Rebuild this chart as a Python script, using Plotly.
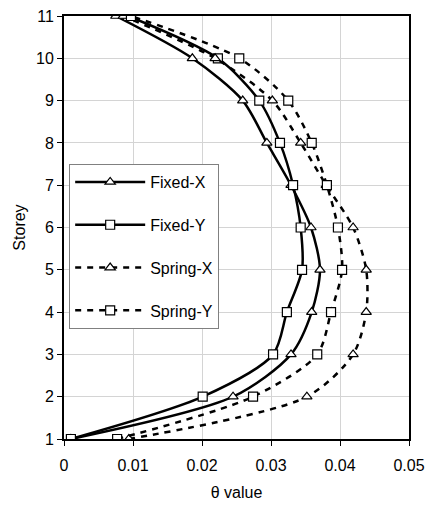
import plotly.graph_objects as go

storey = [1, 2, 3, 4, 5, 6, 7, 8, 9, 10, 11]
fixed_x = [0.0010, 0.0245, 0.0329, 0.0359, 0.0371, 0.0358, 0.0329, 0.0294, 0.0259, 0.0186, 0.0075]
fixed_y = [0.0010, 0.0201, 0.0303, 0.0323, 0.0345, 0.0343, 0.0332, 0.0313, 0.0283, 0.0223, 0.0093]
spring_x = [0.0094, 0.0352, 0.0419, 0.0438, 0.0438, 0.0419, 0.0380, 0.0343, 0.0302, 0.0219, 0.0086]
spring_y = [0.0077, 0.0274, 0.0367, 0.0387, 0.0403, 0.0397, 0.0381, 0.0359, 0.0325, 0.0254, 0.0097]
x_ticks = [0, 0.01, 0.02, 0.03, 0.04, 0.05]
x_ticklabels = ["0", "0.01", "0.02", "0.03", "0.04", "0.05"]

series = [
    ("Fixed-X", fixed_x, "solid", "triangle-up"),
    ("Fixed-Y", fixed_y, "solid", "square"),
    ("Spring-X", spring_x, "6px,6px", "triangle-up"),
    ("Spring-Y", spring_y, "6px,6px", "square"),
]

fig = go.Figure()
for i, (name, xs, dash, sym) in enumerate(series):
    fig.add_trace(go.Scatter(
        x=xs, y=storey, name=name, mode="lines+markers",
        legendgroup=f"g{i}",
        line=dict(color="black", width=2.5, dash=dash, shape="spline", smoothing=0.8),
        marker=dict(symbol=sym, size=9, color="white", line=dict(color="black", width=1.2)),
    ))

font = dict(family="Liberation Sans, Arial, sans-serif", size=16, color="black")
fig.update_layout(
    width=428, height=505,
    margin=dict(l=64, r=19, t=16, b=66, autoexpand=False),
    paper_bgcolor="white", plot_bgcolor="white",
    font=font,
    showlegend=True,
    legend=dict(x=0.015, y=0.65, xanchor="left", yanchor="top",
                bgcolor="white", bordercolor="#808080", borderwidth=1,
                tracegroupgap=19, itemwidth=70, font=font),
    xaxis=dict(range=[0, 0.05], tickvals=x_ticks, ticktext=x_ticklabels, tickangle=0,
               automargin=False, ticklabelstandoff=6,
               showgrid=True, gridcolor="#d4d4d4", gridwidth=1,
               showline=True, linecolor="black", linewidth=2, mirror=True,
               ticks="outside", ticklen=5, tickcolor="black",
               zeroline=False, title=dict(text="θ value", font=font, standoff=14)),
    yaxis=dict(range=[1, 11], dtick=1, automargin=False,
               showgrid=True, gridcolor="#d4d4d4", gridwidth=1,
               showline=True, linecolor="black", linewidth=2, mirror=True,
               ticks="outside", ticklen=5, tickcolor="black",
               zeroline=False, title=dict(text="Storey", font=font, standoff=6)),
)

fig.write_html("out.html")
